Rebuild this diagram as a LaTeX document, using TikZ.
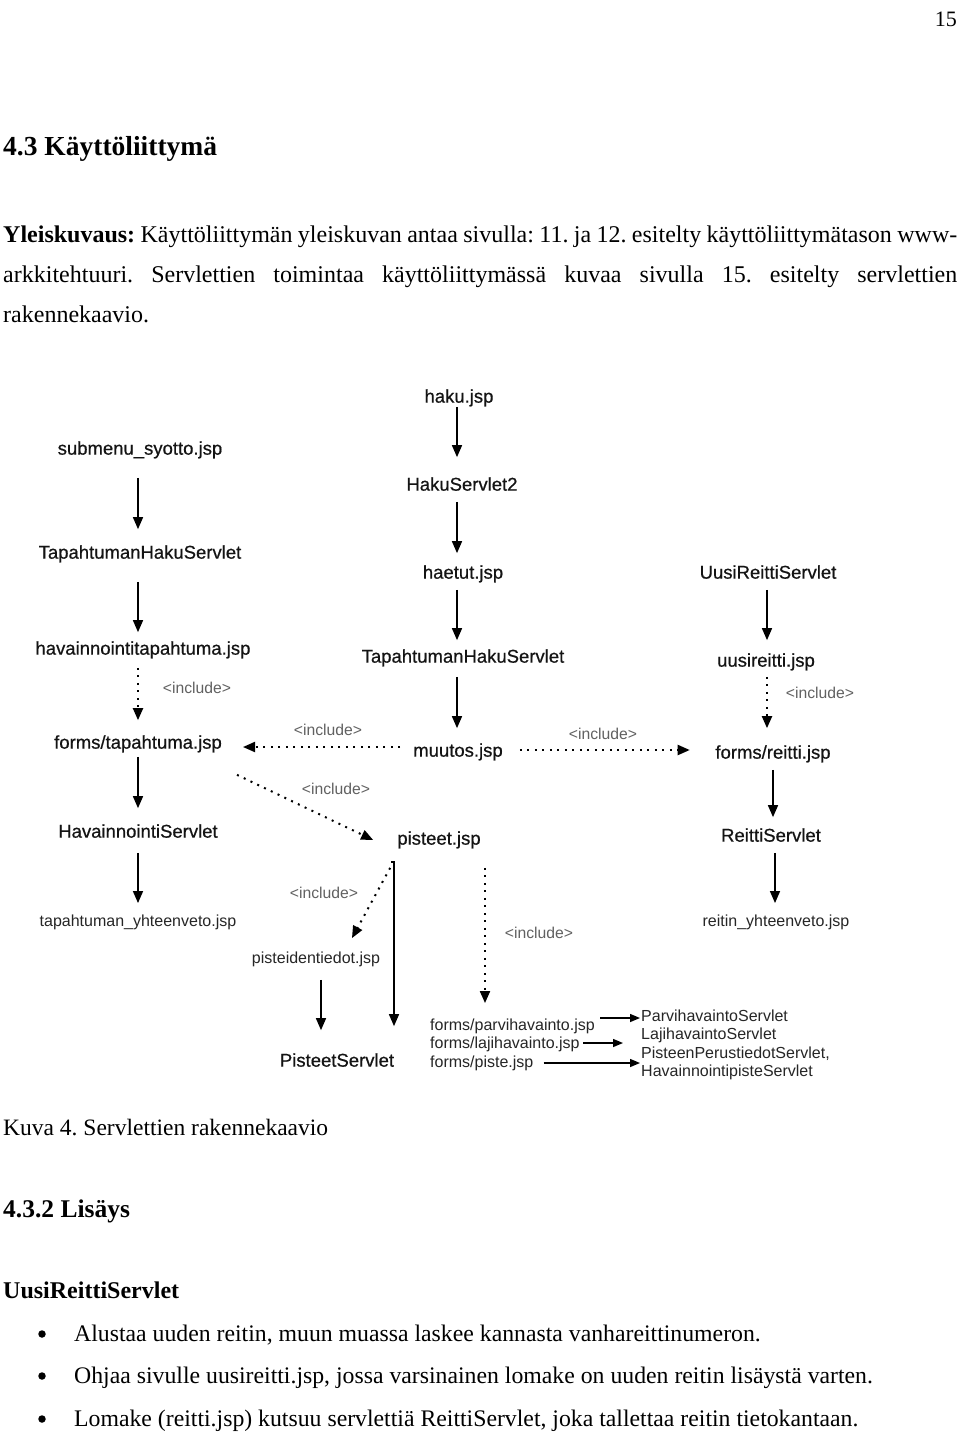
\documentclass[tikz,border=0pt]{standalone}
\usepackage{fontspec}
\setmainfont{Liberation Serif}
\newfontfamily\diag{Liberation Sans}
\newfontfamily\diagb{Liberation Sans}[FakeBold=0.6]
\usetikzlibrary{arrows.meta}
\newcommand\vlink[6]{\draw[#1] ([xshift=#4,yshift=-#5]#2.south) -- ([xshift=#4,yshift=#6]#2.south |- #3.north);}
\newcommand\hlinkL[6]{\draw[#1] ([xshift=-#4,yshift=#5]#2.west) -- ([xshift=#6,yshift=#5]#2.west -| #3.east);}
\newcommand\hlinkR[6]{\draw[#1] ([xshift=#4,yshift=#5]#2.east) -- ([xshift=-#6,yshift=#5]#2.east -| #3.west);}
\begin{document}
\begin{tikzpicture}[x=1pt,y=-1pt,
  M/.style={font=\diagb\fontsize{18.5pt}{20pt}\selectfont, inner sep=0pt, text height=13.3pt, text depth=0pt, text=black!92},
  S/.style={font=\diag\fontsize{16pt}{18pt}\selectfont, inner sep=0pt, text height=11.5pt, text depth=0pt, text=black!85},
  I/.style={font=\diag\fontsize{15.7pt}{17pt}\selectfont, inner sep=0pt, text height=11.3pt, text depth=0pt, text=black!62},
  arr/.style={line width=1.5pt, -{Triangle[length=12pt,width=10pt]}},
  sarr/.style={line width=1.5pt, -{Triangle[length=10pt,width=8pt]}},
  dotarr/.style={line width=2pt, dash pattern=on 2pt off 5.5pt, -{Triangle[length=12pt,width=10pt]}},
  body/.style={anchor=base west, inner sep=0pt, font=\frenchspacing\fontsize{24pt}{28pt}\selectfont},
  bul/.style={circle, fill=black, inner sep=0pt, minimum size=7.5pt},
]
\useasboundingbox (0,0) rectangle (960,1432);
\fill[white] (0,0) rectangle (960,1432);

% page text
\node[anchor=base east, inner sep=0pt, font=\fontsize{22pt}{24pt}\selectfont] (pgno) at (957,26) {15};
\node[anchor=base west, inner sep=0pt, font=\bfseries\fontsize{27.5pt}{30pt}\selectfont] (h1) at (3,155) {4.3 Käyttöliittymä};
\node[body] (p1) at (3,242) {\makebox[954pt][s]{\textbf{Yleiskuvaus:} Käyttöliittymän yleiskuvan antaa sivulla: 11. ja 12. esitelty käyttöliittymätason www-}};
\node[body] (p2) at (3,282) {\makebox[954pt][s]{arkkitehtuuri. Servlettien toimintaa käyttöliittymässä kuvaa sivulla 15. esitelty servlettien}};
\node[body] (p3) at (3,322) {rakennekaavio.};
\node[anchor=base west, inner sep=0pt, font=\frenchspacing\fontsize{23.5pt}{26pt}\selectfont] (cap) at (3,1135) {Kuva 4. Servlettien rakennekaavio};
\node[anchor=base west, inner sep=0pt, font=\bfseries\fontsize{25.5pt}{28pt}\selectfont] (h2) at (3,1217) {4.3.2 Lisäys};
\node[anchor=base west, inner sep=0pt, font=\bfseries\fontsize{24pt}{28pt}\selectfont] (h3) at (3,1298) {UusiReittiServlet};
\node[bul] (b1) at (42,1334) {};
\node[body, font=\frenchspacing\fontsize{23.75pt}{28pt}\selectfont] (t1) at (74,1341) {Alustaa uuden reitin, muun muassa laskee kannasta vanhareittinumeron.};
\node[bul] (b2) at (42,1376) {};
\node[body, font=\frenchspacing\fontsize{23.75pt}{28pt}\selectfont] (t2) at (74,1383) {Ohjaa sivulle uusireitti.jsp, jossa varsinainen lomake on uuden reitin lisäystä varten.};
\node[bul] (b3) at (42,1419) {};
\node[body, font=\frenchspacing\fontsize{23.75pt}{28pt}\selectfont] (t3) at (74,1426) {Lomake (reitti.jsp) kutsuu servlettiä ReittiServlet, joka tallettaa reitin tietokantaan.};

% diagram nodes
\node[M] (haku) at (459,396) {haku.jsp};
\node[M] (hakus) at (462,484) {HakuServlet2};
\node[M] (haetut) at (463,572) {haetut.jsp};
\node[M] (thsm) at (463,656) {TapahtumanHakuServlet};
\node[M] (muutos) at (458,750) {muutos.jsp};
\node[M] (submenu) at (140,448) {submenu\_syotto.jsp};
\node[M] (thsl) at (140,552) {TapahtumanHakuServlet};
\node[M] (havtap) at (143,648) {havainnointitapahtuma.jsp};
\node[M] (formstap) at (138,742) {forms/tapahtuma.jsp};
\node[M] (havserv) at (138,831) {HavainnointiServlet};
\node[M] (uusiserv) at (768,572) {UusiReittiServlet};
\node[M] (uusijsp) at (766,660) {uusireitti.jsp};
\node[M] (formsreitti) at (773,752) {forms/reitti.jsp};
\node[M] (reittiserv) at (771,835) {ReittiServlet};
\node[M] (pisteet) at (439,838) {pisteet.jsp};
\node[M] (pisteetserv) at (337,1060) {PisteetServlet};
\node[S] (tapyht) at (138,921) {tapahtuman\_yhteenveto.jsp};
\node[S] (reityht) at (776,921) {reitin\_yhteenveto.jsp};
\node[S] (pistetiedot) at (316,958) {pisteidentiedot.jsp};
\node[S, anchor=west] (fparvi) at (430,1025) {forms/parvihavainto.jsp};
\node[S, anchor=west] (flaji) at (430,1043) {forms/lajihavainto.jsp};
\node[S, anchor=west] (fpiste) at (430,1062) {forms/piste.jsp};
\node[S, anchor=west] (sparvi) at (641,1016) {ParvihavaintoServlet};
\node[S, anchor=west] (slaji) at (641,1034) {LajihavaintoServlet};
\node[S, anchor=west] (spiste1) at (641,1053) {PisteenPerustiedotServlet,};
\node[S, anchor=west] (spiste2) at (641,1071) {HavainnointipisteServlet};

% include labels
\node[I] (inc1) at (197,688) {<include>};
\node[I] (inc2) at (328,730) {<include>};
\node[I] (inc3) at (336,789) {<include>};
\node[I] (inc4) at (603,734) {<include>};
\node[I] (inc5) at (820,693) {<include>};
\node[I] (inc6) at (324,893) {<include>};
\node[I] (inc7) at (539,933) {<include>};

% vertical connectors
\vlink{arr}{haku}{hakus}{-2pt}{4pt}{20pt}
\vlink{arr}{hakus}{haetut}{-5pt}{11pt}{12pt}
\vlink{arr}{haetut}{thsm}{-6pt}{11pt}{9pt}
\vlink{arr}{thsm}{muutos}{-6pt}{14pt}{15pt}
\vlink{arr}{submenu}{thsl}{-2pt}{23pt}{16pt}
\vlink{arr}{thsl}{havtap}{-2pt}{23pt}{9pt}
\vlink{dotarr}{havtap}{formstap}{-5pt}{13pt}{15pt}
\vlink{arr}{formstap}{havserv}{0pt}{8pt}{16pt}
\vlink{arr}{havserv}{tapyht}{0pt}{15pt}{12pt}
\vlink{arr}{uusiserv}{uusijsp}{-1pt}{11pt}{13pt}
\vlink{dotarr}{uusijsp}{formsreitti}{1pt}{10pt}{17pt}
\vlink{arr}{formsreitti}{reittiserv}{0pt}{11pt}{11pt}
\vlink{arr}{reittiserv}{reityht}{4pt}{11pt}{12pt}
\vlink{arr}{pistetiedot}{pisteetserv}{5pt}{16pt}{23pt}
\vlink{dotarr}{pisteet}{fparvi}{46pt}{23pt}{16pt}
\draw[arr] ([xshift=-48pt,yshift=-17pt]pisteet.south) -- ([xshift=-45pt,yshift=-17pt]pisteet.south) -- ([xshift=-45pt,yshift=27pt]pisteet.south |- pisteetserv.north);

% horizontal connectors
\hlinkL{dotarr}{muutos}{formstap}{13pt}{3pt}{21pt}
\hlinkR{dotarr}{muutos}{formsreitti}{17pt}{0pt}{25.5pt}
\hlinkR{sarr}{fparvi}{sparvi}{5.5pt}{7pt}{1pt}
\hlinkR{sarr}{flaji}{slaji}{3.6pt}{0pt}{18pt}
\hlinkR{sarr}{fpiste}{spiste1}{10pt}{-1pt}{1pt}

% diagonal connectors
\draw[dotarr] ([xshift=15pt,yshift=-26pt]formstap.south east) -- ([xshift=-24pt,yshift=-2pt]pisteet.west);
\draw[dotarr] ([xshift=-7pt,yshift=-23pt]pisteet.south west) -- ([xshift=36pt,yshift=14pt]pistetiedot.north);
\end{tikzpicture}
\end{document}
